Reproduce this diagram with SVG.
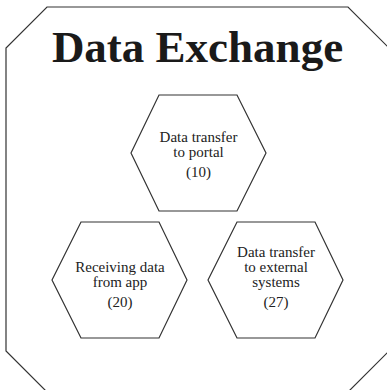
<svg xmlns="http://www.w3.org/2000/svg" width="387" height="390" viewBox="0 0 387 390">
<style>
.shape{fill:#fff;stroke:#333;stroke-width:1.2}
.lbl{font-family:"Liberation Serif","Times New Roman",serif;font-size:15px;fill:#222;text-anchor:middle}
.title{font-family:"Liberation Serif","Times New Roman",serif;font-size:45px;font-weight:bold;fill:#1a1a1a;text-anchor:middle}
</style>
<rect width="387" height="390" fill="#fff"/>
<g id="container">
<polygon class="shape" points="47,7 348,7 389,48 389,351 348,392 47,392 6,351 6,48"/>
<text class="title" x="197.5" y="62">Data Exchange</text>
</g>
<g id="connectors"></g>
<g id="node-10">
<polygon class="shape" points="131,153 159,95 237,95 266,153 237,211 159,211"/>
<text class="lbl" x="198.5" y="141.7">Data transfer</text>
<text class="lbl" x="198.5" y="156.7">to portal</text>
<text class="lbl" x="198.5" y="176.7">(10)</text>
</g>
<g id="node-20">
<polygon class="shape" points="52,280 81,222 159,222 187,280 159,338 81,338"/>
<text class="lbl" x="120" y="271.7">Receiving data</text>
<text class="lbl" x="120" y="286.7">from app</text>
<text class="lbl" x="120" y="306.7">(20)</text>
</g>
<g id="node-27">
<polygon class="shape" points="208,280 237,222 315,222 343,280 315,338 237,338"/>
<text class="lbl" x="276" y="257.2">Data transfer</text>
<text class="lbl" x="276" y="272.2">to external</text>
<text class="lbl" x="276" y="287.2">systems</text>
<text class="lbl" x="276" y="306.9">(27)</text>
</g>
</svg>
